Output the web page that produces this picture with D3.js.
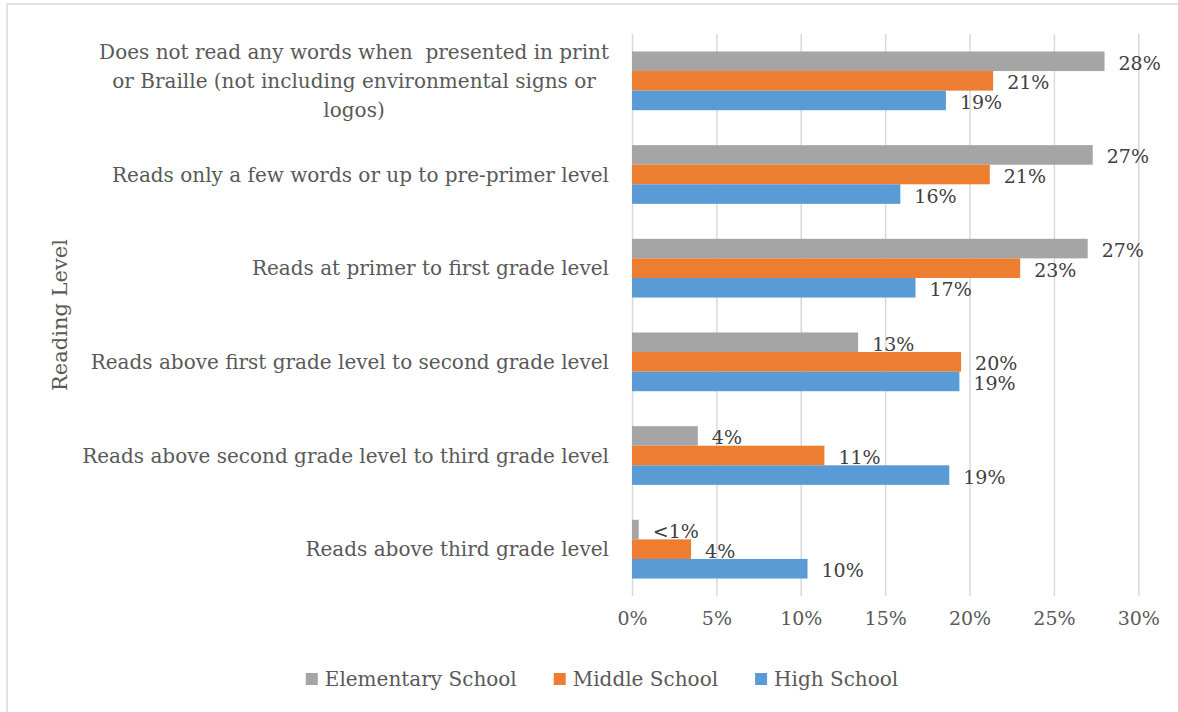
<!DOCTYPE html>
<html>
<head>
<meta charset="utf-8">
<script src="https://cdn.jsdelivr.net/npm/d3@7/dist/d3.min.js"></script>
<style>
  html, body { margin: 0; padding: 0; background: #fff; }
  svg { display: block; font-family: "DejaVu Serif", "Liberation Serif", serif; }
</style>
</head>
<body>
<svg id="chart" width="1178" height="712"></svg>
<script>
// Reading level categories (top to bottom); "\n" marks a line break in the label
const categories = [
  "Does not read any words when  presented in print\nor Braille (not including environmental signs or\nlogos)",
  "Reads only a few words or up to pre-primer level",
  "Reads at primer to first grade level",
  "Reads above first grade level to second grade level",
  "Reads above second grade level to third grade level",
  "Reads above third grade level"
];

// Series (percent of students)
const seriesNames = ["Elementary School", "Middle School", "High School"];
const elementary = [28.0, 27.3, 27.0, 13.4, 3.9, 0.4];
const middle     = [21.4, 21.2, 23.0, 19.5, 11.4, 3.5];
const high       = [18.6, 15.9, 16.8, 19.4, 18.8, 10.4];
const seriesValues = [elementary, middle, high];
const seriesColors = ["#A5A5A5", "#ED7D31", "#5B9BD5"];

// Axis ticks
const xTicks = [0, 5, 10, 15, 20, 25, 30];
const axisTitle = "Reading Level";

const svg = d3.select("#chart");
const textColor = "#595959";
const gridColor = "#D9D9D9";
const numSize = "19px";
const labelSize = "20px";

// Chart frame
svg.append("rect")
  .attr("x", 7).attr("y", 4)
  .attr("width", 1200).attr("height", 760)
  .attr("fill", "none")
  .attr("stroke", gridColor)
  .attr("stroke-width", 1.5);

const plot = { left: 632, right: 1138.3, top: 34, bottom: 596 };

const x = d3.scaleLinear().domain([0, 30]).range([plot.left, plot.right]);
const y = d3.scaleBand().domain(categories).range([plot.top, plot.bottom])
  .paddingInner(0.373).paddingOuter(0.1865);
const ySub = d3.scaleBand().domain(seriesNames).range([0, y.bandwidth()]);

// Vertical gridlines
const grid = svg.append("g")
  .attr("transform", `translate(0,${plot.top})`)
  .call(d3.axisBottom(x).tickValues(xTicks).tickSize(plot.bottom - plot.top).tickFormat(""));
grid.select(".domain").remove();
grid.selectAll(".tick line").attr("stroke", gridColor).attr("stroke-width", 1.5);

// X axis tick labels
const xAxis = svg.append("g")
  .attr("transform", `translate(0,${plot.bottom})`)
  .call(d3.axisBottom(x).tickValues(xTicks).tickSize(0).tickPadding(16)
    .tickFormat(d => d + "%"));
xAxis.select(".domain").remove();
xAxis.selectAll("text")
  .attr("fill", textColor)
  .style("font-size", numSize)
  .style("font-family", "DejaVu Serif, serif");

// Bars
const rows = categories.map((c, i) => ({
  cat: c,
  vals: seriesNames.map((s, j) => ({ series: s, value: seriesValues[j][i], color: seriesColors[j] }))
}));

const groups = svg.append("g").selectAll("g")
  .data(rows).join("g")
  .attr("transform", d => `translate(0,${y(d.cat)})`);

groups.selectAll("rect")
  .data(d => d.vals).join("rect")
  .attr("x", x(0))
  .attr("y", d => ySub(d.series))
  .attr("width", d => x(d.value) - x(0))
  .attr("height", ySub.bandwidth())
  .attr("fill", d => d.color);

// Data labels
const fmt = v => v < 1 ? "<1%" : Math.round(v) + "%";
groups.selectAll("text.val")
  .data(d => d.vals).join("text")
  .attr("class", "val")
  .attr("x", d => x(d.value) + 14)
  .attr("y", d => ySub(d.series) + ySub.bandwidth() / 2)
  .attr("dy", "0.45em")
  .attr("fill", "#404040")
  .style("font-size", numSize)
  .text(d => fmt(d.value));

// Category labels (right edge of widest line at x = 609)
const catG = svg.append("g");
categories.forEach(c => {
  const lines = c.split("\n");
  const cy = y(c) + y.bandwidth() / 2;
  const lh = 29;
  const t = catG.append("text")
    .attr("fill", textColor)
    .style("font-size", labelSize)
    .style("white-space", "pre");
  lines.forEach((ln, k) => {
    t.append("tspan")
      .attr("x", 0)
      .attr("y", cy + (k - (lines.length - 1) / 2) * lh)
      .attr("dy", "0.35em")
      .text(ln);
  });
  if (lines.length > 1) {
    const w = d3.max(t.selectAll("tspan").nodes(), n => n.getComputedTextLength());
    t.attr("text-anchor", "middle").selectAll("tspan").attr("x", 609 - w / 2);
  } else {
    t.attr("text-anchor", "end").selectAll("tspan").attr("x", 609);
  }
});

// Y axis title
svg.append("text")
  .attr("transform", `translate(60,${(plot.top + plot.bottom) / 2}) rotate(-90)`)
  .attr("text-anchor", "middle")
  .attr("dy", "0.35em")
  .attr("fill", textColor)
  .style("font-size", "21px")
  .text(axisTitle);

// Legend
const legend = svg.append("g");
const items = legend.selectAll("g").data(seriesNames).join("g");
items.append("rect")
  .attr("width", 12).attr("height", 12)
  .attr("y", -6)
  .attr("fill", (d, i) => seriesColors[i]);
items.append("text")
  .attr("x", 19)
  .attr("dy", "0.35em")
  .attr("fill", textColor)
  .style("font-size", labelSize)
  .text(d => d);
const widths = [];
items.each(function() {
  widths.push(this.querySelector("text").getComputedTextLength() + 19);
});
const gap = 37;
const total = d3.sum(widths) + gap * (widths.length - 1);
let cursor = 602 - total / 2;
items.attr("transform", (d, i) => {
  const tx = cursor;
  cursor += widths[i] + gap;
  return `translate(${tx},679)`;
});
</script>
</body>
</html>
